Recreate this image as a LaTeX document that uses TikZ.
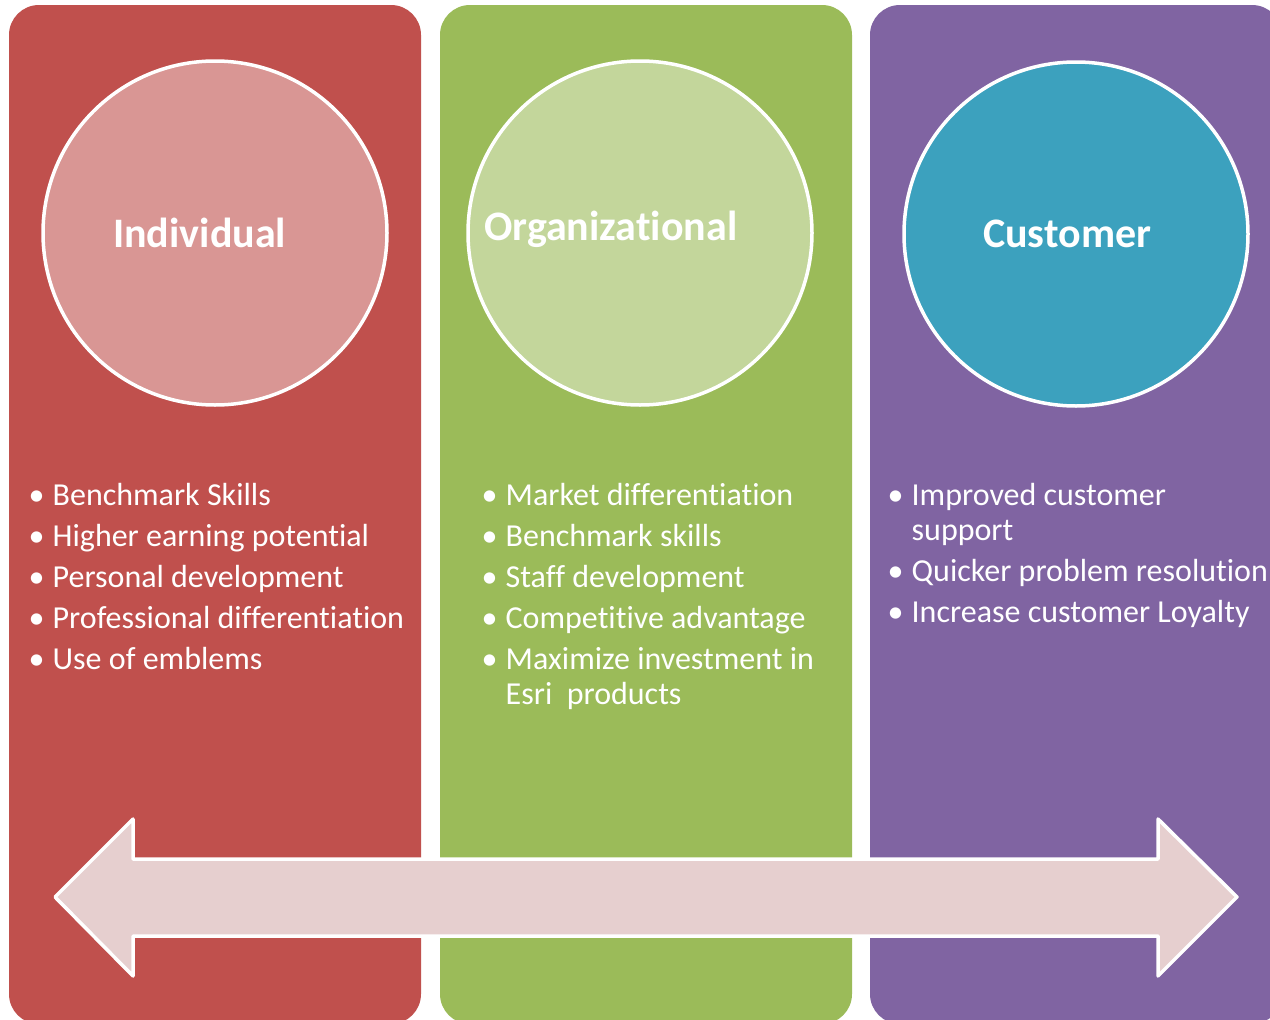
\documentclass[tikz,border=0pt]{standalone}
\usepackage{fontspec}
\setmainfont[Ligatures=NoCommon]{Carlito}
\usepackage{tikz}

\definecolor{panelRed}{HTML}{C0504D}
\definecolor{panelGreen}{HTML}{9BBB59}
\definecolor{panelPurple}{HTML}{8064A2}
\definecolor{discRed}{HTML}{D99694}
\definecolor{discGreen}{HTML}{C3D69B}
\definecolor{discTeal}{HTML}{3CA1BE}
\definecolor{arrowPink}{HTML}{E6CFCF}

\newcommand{\itm}[1]{\makebox[22.5pt][l]{\hspace{-1.5pt}•}#1}
\newcommand{\cnt}[1]{\makebox[22.5pt][l]{}#1}

\tikzset{
  disc/.style={circle,draw=white,line width=3.5,minimum size=344,inner sep=0},
  title/.style={anchor=base west,inner sep=0,text=white,font=\fontsize{42}{46}\selectfont\bfseries},
  bullets/.style={anchor=north west,inner sep=0,text=white,align=left,font=\fontsize{32}{35}\selectfont}
}

\begin{document}
\begin{tikzpicture}[x=1pt,y=1pt,yscale=-1,xscale=1]
              \useasboundingbox (0,0) rectangle (1270,1020);
              \clip (0,0) rectangle (1270,1020);
              \fill [white] (0,0) rectangle (1270,1020);
              \fill [panelRed,rounded corners=30] (9,5) rectangle (421,1024);
              \fill [panelGreen,rounded corners=30] (440,5) rectangle (852,1024);
              \fill [panelPurple,rounded corners=30] (870,5) rectangle (1282,1024);
              \node [disc,fill=discRed] (indiv) at (215,233) {};
              \node [disc,fill=discGreen] (org) at (640,233) {};
              \node [disc,fill=discTeal] (cust) at (1076,234) {};
              \node [title] (indivT) at (113,247) {Individual};
              \node [title] (orgT) at (484,240) {Organizational};
              \node [title] (custT) at (983,247) {Customer};
              \node [bullets] (indivL) at (30,483) {\itm{Benchmark Skills}\\[6pt]\itm{Higher earning potential}\\[6pt]\itm{Personal development}\\[6pt]\itm{Professional differentiation}\\[6pt]\itm{Use of emblems}};
              \node [bullets] (orgL) at (483,483) {\itm{Market differentiation}\\[6pt]\itm{Benchmark skills}\\[6pt]\itm{Staff development}\\[6pt]\itm{Competitive advantage}\\[6pt]\itm{Maximize investment in}\\\cnt{Esri\ \ products}};
              \node [bullets] (custL) at (889,483) {\itm{Improved customer}\\\cnt{support}\\[6pt]\itm{Quicker problem resolution}\\[6pt]\itm{Increase customer Loyalty}};
              \draw [white,line width=3.5,line join=round,fill=arrowPink] (55,897) -- (133,819) -- (133,859) -- (1158,859) -- (1158,819) -- (1237,897) -- (1158,976) -- (1158,936) -- (133,936) -- (133,976) -- cycle ;
            \end{tikzpicture}
\end{document}
